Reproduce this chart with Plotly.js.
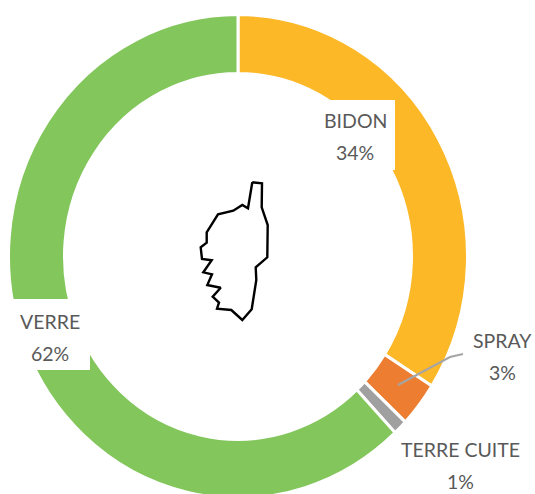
<!DOCTYPE html>
<html>
<head>
<meta charset="utf-8">
<script src="https://cdn.plot.ly/plotly-3.0.1.min.js"></script>
<style>html,body{margin:0;padding:0;background:#fff;overflow:hidden}</style>
</head>
<body>
<div id="chart" style="width:535px;height:494px"></div>
<script>
const categories = ["BIDON", "SPRAY", "TERRE CUITE", "VERRE"];
const sliceShares = [34, 3, 1, 62];
const sliceColors = ["#FDB827", "#ED7D31", "#A0A0A0", "#82C65C"];
const outlineX = [252.3,262,261.7,267.7,267.3,255.7,256.3,251.7,242.3,231.3,217,219,212.7,220.7,207.3,212,203.3,211.7,202,200.7,206.7,206.7,218,233.3,242.3,248,252.3];
const outlineY = [182.3,183.3,207.3,225,257.3,267.3,280,309.3,320,310,308.7,302.7,296.7,287.7,285,274.3,272.3,260.3,259,247.3,242.7,232.3,214.3,210.7,205,208.3,182.3];

const W = 535, H = 494;
const ringCenterX = 238, ringCenterY = 256.4, ringRadius = 229.5, ringStretch = 1.054;
const font = {family: "Lato, 'Open Sans', sans-serif", size: 19.5, color: "#595959"};
const text = (t, x, y) => ({
  text: t, x: x, y: y, xref: "x", yref: "y", showarrow: false,
  font: font, xanchor: "center", yanchor: "middle"
});
const label = (i, x, y) => [
  text(categories[i], x, y),
  text(sliceShares[i] + "%", x, y + 32)
];
const whiteBox = (x0, y0, x1, y1) => ({
  type: "rect", xref: "x", yref: "y", x0, y0, x1, y1,
  fillcolor: "#fff", line: {width: 0}, layer: "above"
});

Plotly.newPlot("chart", [
  {type: "scatter", mode: "lines", x: outlineX, y: outlineY,
   line: {color: "#000", width: 2.4}, hoverinfo: "skip", showlegend: false},
  {type: "pie", labels: categories, values: sliceShares, sort: false,
   direction: "clockwise", rotation: 0, hole: 0.756, textinfo: "none",
   marker: {colors: sliceColors, line: {color: "#fff", width: 3}},
   domain: {x: [(ringCenterX - ringRadius) / W, (ringCenterX + ringRadius) / W],
            y: [(H - ringCenterY - ringRadius) / H, (H - ringCenterY + ringRadius) / H]},
   showlegend: false}
], {
  width: W, height: H,
  margin: {l: 0, r: 0, t: 0, b: 0},
  paper_bgcolor: "#fff", plot_bgcolor: "rgba(0,0,0,0)",
  showlegend: false,
  xaxis: {range: [0, W], visible: false, fixedrange: true},
  yaxis: {range: [H, 0], visible: false, fixedrange: true},
  shapes: [
    whiteBox(312, 100, 395, 170),
    whiteBox(8, 299, 90, 370),
    {type: "path", xref: "x", yref: "y", layer: "above",
     path: "M 398 385 L 450 357 L 463 354", line: {color: "#A5A5A5", width: 2}}
  ],
  annotations: [
    ...label(0, 355, 120),
    ...label(1, 502, 340),
    ...label(2, 460, 449),
    ...label(3, 50, 321)
  ]
}, {displayModeBar: false, staticPlot: true}).then(gd => {
  gd.querySelector(".pielayer").setAttribute("transform",
    `translate(0 ${ringCenterY}) scale(1 ${ringStretch}) translate(0 ${-ringCenterY})`);
});
</script>
</body>
</html>
